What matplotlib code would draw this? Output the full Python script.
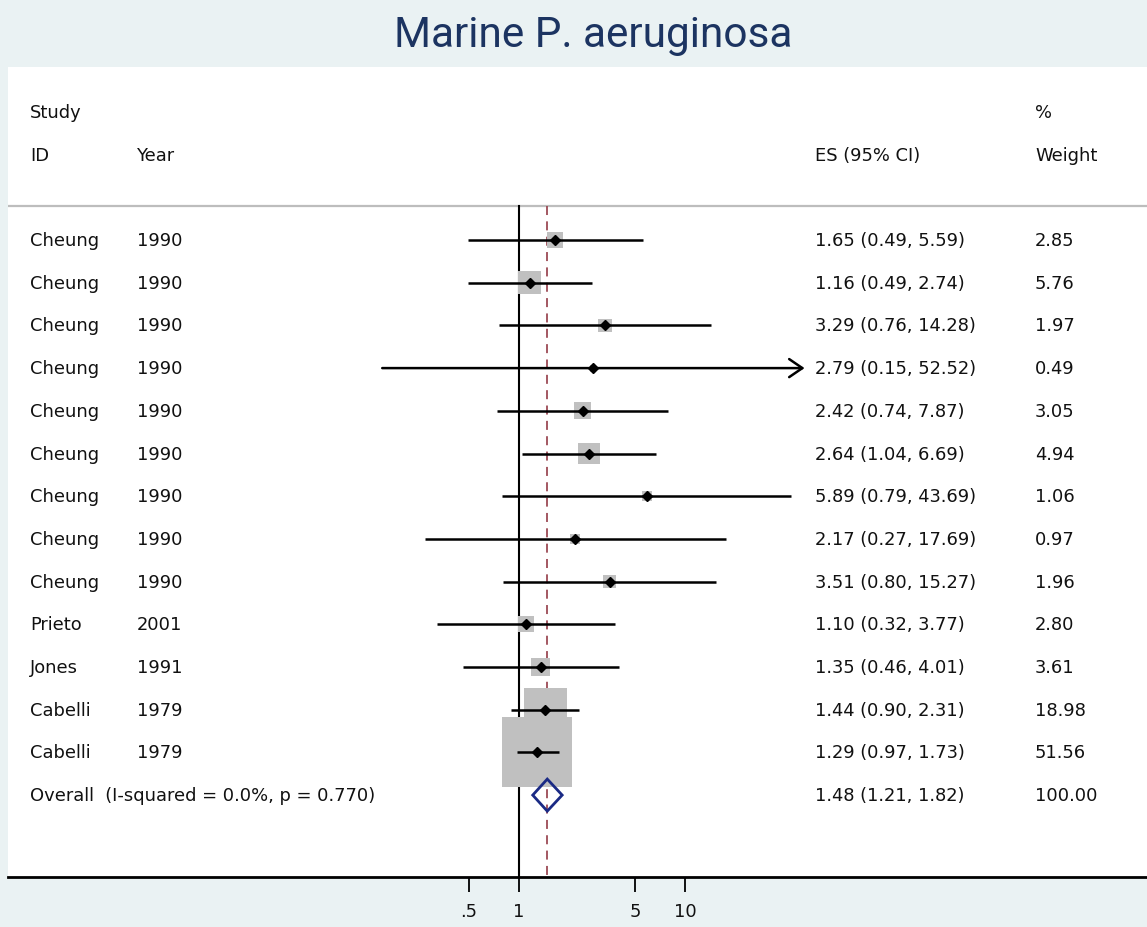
import numpy as np
import matplotlib
matplotlib.use("Agg")
import matplotlib.pyplot as plt
from matplotlib import font_manager

# study rows
study = ["Cheung"] * 9 + ["Prieto", "Jones", "Cabelli", "Cabelli"]
year = ["1990"] * 9 + ["2001", "1991", "1979", "1979"]
es = [1.65, 1.16, 3.29, 2.79, 2.42, 2.64, 5.89, 2.17, 3.51, 1.10, 1.35, 1.44, 1.29]
lo = [0.49, 0.49, 0.76, 0.15, 0.74, 1.04, 0.79, 0.27, 0.80, 0.32, 0.46, 0.90, 0.97]
hi = [5.59, 2.74, 14.28, 52.52, 7.87, 6.69, 43.69, 17.69, 15.27, 3.77, 4.01, 2.31, 1.73]
weight = [2.85, 5.76, 1.97, 0.49, 3.05, 4.94, 1.06, 0.97, 1.96, 2.80, 3.61, 18.98, 51.56]

overall_es, overall_lo, overall_hi = 1.48, 1.21, 1.82
overall_label = "Overall  (I-squared = 0.0%, p = 0.770)"

xticks = [0.5, 1, 5, 10]
xticklabels = [".5", "1", "5", "10"]

bg = "#EAF2F3"
W, H = 1147, 928
fig = plt.figure(figsize=(W / 100, H / 100), dpi=100, facecolor=bg)
ax = fig.add_axes([8 / W, 1 - 878 / H, 1 - 8 / W, (878 - 68) / H])
ax.set_facecolor("white")

ax.set_xscale("log")
ax.set_xlim(10 ** ((8 - 519) / 166), 10 ** ((1147 - 519) / 166))
ax.set_ylim((878 - 241) / 42.7, (68 - 241) / 42.7)

fs = 12.9
n = len(study)
rows = np.arange(n)

# reference lines
ytop = -0.8
ax.plot([1, 1], [ytop, 20], color="black", lw=1.5, zorder=2)
ax.plot([overall_es, overall_es], [ytop, 20], color="#9C4A55", lw=1.3,
        ls=(0, (5, 3.5)), zorder=2)
ax.axhline(ytop, color="#BDBDBD", lw=1.6, zorder=1)

# weight boxes (area proportional to weight)
side_px = 70 * np.sqrt(np.array(weight) / 51.56)
side_pt = side_px * 0.72
ax.scatter(es, rows, s=side_pt ** 2, marker="s", color="#C0C0C0",
           edgecolors="none", zorder=3)

# confidence intervals
for i in range(n):
    if hi[i] > 50:
        ax.annotate("", xy=(hi[i], rows[i]), xytext=(lo[i], rows[i]),
                    arrowprops=dict(arrowstyle="->,head_length=0.95,head_width=0.65",
                                    lw=1.8, color="black", shrinkA=0, shrinkB=0,
                                    mutation_scale=10), zorder=4)
    else:
        ax.plot([lo[i], hi[i]], [rows[i], rows[i]], color="black", lw=1.8,
                solid_capstyle="butt", zorder=4)
ax.plot(es, rows, ls="none", marker="D", ms=5, color="black", zorder=5)

# overall diamond
yo = n
hd = 0.375
ax.fill([overall_lo, overall_es, overall_hi, overall_es],
        [yo, yo - hd, yo, yo + hd], facecolor="none",
        edgecolor="#1A2A85", lw=2, zorder=5)

# text columns
tr = ax.get_yaxis_transform()
cx = [(30 - 8) / 1139, (137 - 8) / 1139, (815 - 8) / 1139, (1035 - 8) / 1139]
txt = dict(transform=tr, fontsize=fs, va="center", ha="left", color="#111111")
ax.text(cx[0], -3, "Study", **txt)
ax.text(cx[3], -3, "%", **txt)
ax.text(cx[0], -2, "ID", **txt)
ax.text(cx[1], -2, "Year", **txt)
ax.text(cx[2], -2, "ES (95% CI)", **txt)
ax.text(cx[3], -2, "Weight", **txt)
for i in range(n):
    ax.text(cx[0], i, study[i], **txt)
    ax.text(cx[1], i, year[i], **txt)
    ax.text(cx[2], i, f"{es[i]:.2f} ({lo[i]:.2f}, {hi[i]:.2f})", **txt)
    ax.text(cx[3], i, f"{weight[i]:.2f}", **txt)
ax.text(cx[0], yo, overall_label, **txt)
ax.text(cx[2], yo, f"{overall_es:.2f} ({overall_lo:.2f}, {overall_hi:.2f})", **txt)
ax.text(cx[3], yo, "100.00", **txt)

# axes styling
for s in ["top", "left", "right"]:
    ax.spines[s].set_visible(False)
ax.spines["bottom"].set_linewidth(2)
ax.set_yticks([])
ax.set_xticks(xticks)
ax.set_xticklabels(xticklabels, fontsize=fs, color="#111111")
ax.minorticks_off()
ax.tick_params(axis="x", direction="out", length=11, width=1.3, pad=7)

# title: pick a narrow family if present, then fit width to ~400 px
names = {f.name for f in font_manager.fontManager.ttflist}
fam = "Liberation Sans Narrow" if "Liberation Sans Narrow" in names else "Roboto"
title = fig.text(593 / W, 1 - 36 / H, "Marine P. aeruginosa", fontsize=34,
                 family=[fam, "DejaVu Sans"], color="#1C3461",
                 ha="center", va="center")
r = fig.canvas.get_renderer()
w = title.get_window_extent(r).width
title.set_fontsize(34 * 400 / w)

fig.savefig("out.png", dpi=100, facecolor=bg)
